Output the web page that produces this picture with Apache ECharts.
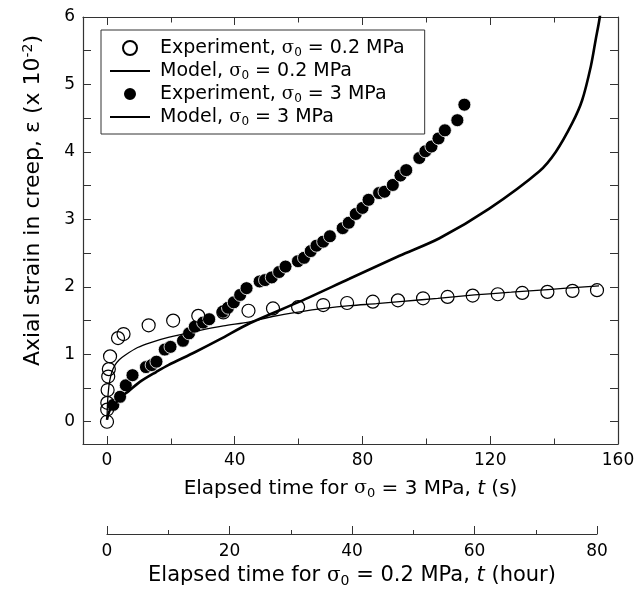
<!DOCTYPE html>
<html>
<head>
<meta charset="utf-8">
<script src="https://cdn.jsdelivr.net/npm/echarts@6/dist/echarts.min.js"></script>
<style>html,body{margin:0;padding:0;background:#fff}#c{width:634px;height:590px}</style>
</head>
<body>
<div id="c"></div>
<script>
// Experiment, sigma0 = 0.2 MPa (time in hours)
const expLowHours  = [0, 0.03, 0.05, 0.1, 0.2, 0.3, 0.5, 1.8, 2.7, 6.8, 10.8, 14.9, 19.0, 23.1, 27.1, 31.2, 35.3, 39.2, 43.4, 47.5, 51.6, 55.6, 59.7, 63.8, 67.8, 71.9, 76.0, 80.0];
const expLowStrain = [0.0, 0.18, 0.28, 0.47, 0.67, 0.78, 0.97, 1.24, 1.30, 1.43, 1.50, 1.57, 1.62, 1.645, 1.68, 1.70, 1.73, 1.76, 1.78, 1.80, 1.83, 1.85, 1.87, 1.89, 1.91, 1.925, 1.94, 1.95];
// Model, sigma0 = 0.2 MPa (hours)
const modelLowHours  = [0, 0.1, 0.3, 0.5, 0.8, 1.3, 2, 3, 5, 7, 10, 15, 19, 23.3, 27, 31.5, 35.5, 39.7, 44, 47.8, 54, 60, 66, 72, 78, 83.4];
const modelLowStrain = [0.03, 0.3, 0.52, 0.63, 0.74, 0.84, 0.92, 0.99, 1.10, 1.17, 1.25, 1.35, 1.42, 1.48, 1.56, 1.63, 1.68, 1.72, 1.75, 1.78, 1.83, 1.88, 1.92, 1.96, 2.0, 2.03];
// Experiment, sigma0 = 3 MPa (seconds)
const expHighTime   = [2.0, 4.1, 5.9, 8.0, 12.2, 14.0, 15.5, 18.1, 19.9, 23.8, 25.7, 27.5, 30.1, 32.0, 36.3, 37.9, 39.7, 41.7, 43.7, 47.8, 49.5, 51.6, 53.9, 55.9, 59.8, 61.7, 63.8, 65.6, 67.7, 69.8, 73.8, 75.7, 77.9, 80.0, 81.9, 85.2, 86.9, 89.5, 91.9, 93.7, 97.8, 99.7, 101.6, 103.8, 105.8, 109.7, 111.9];
const expHighStrain = [0.25, 0.37, 0.54, 0.69, 0.81, 0.84, 0.89, 1.07, 1.11, 1.20, 1.31, 1.41, 1.47, 1.52, 1.63, 1.69, 1.77, 1.88, 1.98, 2.08, 2.10, 2.14, 2.22, 2.30, 2.38, 2.43, 2.53, 2.61, 2.67, 2.75, 2.87, 2.95, 3.08, 3.17, 3.29, 3.39, 3.41, 3.51, 3.65, 3.73, 3.91, 4.01, 4.08, 4.20, 4.32, 4.47, 4.70];
// Model, sigma0 = 3 MPa (seconds)
const modelHighTime   = [0, 0.9, 2.5, 4.1, 6.7, 10.3, 15.5, 19.2, 27.5, 35.3, 44.7, 60.3, 75.9, 91.6, 104.1, 119.7, 135.3, 140.5, 145.7, 148.8, 151.5, 153.0, 154.3, 155.5];
const modelHighStrain = [0.03, 0.17, 0.26, 0.36, 0.45, 0.59, 0.74, 0.84, 1.03, 1.22, 1.46, 1.78, 2.12, 2.46, 2.72, 3.16, 3.71, 4.0, 4.43, 4.77, 5.27, 5.66, 6.0, 6.5];

// Tick values
const secMajorTicks  = [0, 40, 80, 120, 160];
const secMinorTicks  = [20, 60, 100, 140];
const hourMajorTicks = [0, 20, 40, 60, 80];
const hourMinorTicks = [10, 30, 50, 70];
const strainTicks    = [0, 0.5, 1, 1.5, 2, 2.5, 3, 3.5, 4, 4.5, 5, 5.5, 6];
const strainLabels   = [0, 1, 2, 3, 4, 5, 6];

const names = {
  eL: 'Experiment, σ0 = 0.2 MPa',
  mL: 'Model, σ0 = 0.2 MPa',
  eH: 'Experiment, σ0 = 3 MPa',
  mH: 'Model, σ0 = 3 MPa'
};
const legendRich = {};
legendRich[names.eL] = 'Experiment, {g|σ}{s|0} = 0.2 MPa';
legendRich[names.mL] = 'Model, {g|σ}{s|0} = 0.2 MPa';
legendRich[names.eH] = 'Experiment, {g|σ}{s|0} = 3 MPa';
legendRich[names.mH] = 'Model, {g|σ}{s|0} = 3 MPa';

const zip = (a, b) => a.map((v, i) => [v, b[i]]);
const FONT = 'DejaVu Sans';
const AX = '#333';
function richSet(size) {
  return {
    g: { fontFamily: 'DejaVu Serif', fontSize: size - 1, color: '#000' },
    s: { fontFamily: FONT, fontSize: Math.round(size * 0.65), color: '#000', padding: [Math.round(size / 2), 0, 0, 0] },
    i: { fontFamily: FONT, fontSize: size, fontStyle: 'italic', color: '#000' },
    sup: { fontFamily: FONT, fontSize: Math.round(size * 0.65), color: '#000', padding: [0, 0, Math.round(size / 2), 0] }
  };
}

function tickAxis(extra) {
  return Object.assign({
    type: 'value', axisLine: { show: false, onZero: false }, splitLine: { show: false },
    axisLabel: { show: false }
  }, extra);
}

const chart = echarts.init(document.getElementById('c'), null, { renderer: 'canvas' });
chart.setOption({
  animation: false,
  backgroundColor: '#fff',
  grid: [
    { left: 83, right: 16, top: 17, bottom: 146, show: false, containLabel: false, outerBoundsMode: 'none' },
    { left: 107, right: 37, top: 17, bottom: 146, show: false, containLabel: false, outerBoundsMode: 'none' }
  ],
  legend: {
    orient: 'vertical', left: 101, top: 30,
    data: [names.eL, names.mL, names.eH, names.mH],
    itemWidth: 40, itemHeight: 14, itemGap: 2,
    padding: [8, 20, 6, 8],
    borderColor: AX, borderWidth: 1, backgroundColor: '#fff',
    formatter: n => legendRich[n],
    textStyle: { fontFamily: FONT, fontSize: 19, color: '#000', lineHeight: 20, padding: [0, 0, 0, 5], rich: richSet(19) }
  },
  xAxis: [
    { type: 'value', gridIndex: 0, position: 'bottom', min: -7.5, max: 160,
      axisLine: { show: true, onZero: false, lineStyle: { color: AX, width: 1.2 } },
      axisTick: { show: true, inside: true, length: 8, customValues: secMajorTicks, lineStyle: { color: AX } },
      axisLabel: { show: true, customValues: secMajorTicks, margin: 8, fontFamily: FONT, fontSize: 17, color: '#000' },
      splitLine: { show: false },
      name: 'Elapsed time for {g|σ}{s|0} = 3 MPa, {i|t} (s)', nameLocation: 'middle', nameGap: 33,
      nameTextStyle: { fontFamily: FONT, fontSize: 20, color: '#000', rich: richSet(20) } },
    tickAxis({ gridIndex: 0, position: 'bottom', min: -7.5, max: 160,
      axisTick: { show: true, inside: true, length: 5.5, customValues: secMinorTicks, lineStyle: { color: AX } } }),
    { type: 'value', gridIndex: 0, position: 'top', min: -7.5, max: 160,
      axisLine: { show: true, onZero: false, lineStyle: { color: AX, width: 1.2 } },
      axisTick: { show: true, inside: true, length: 8, customValues: secMajorTicks, lineStyle: { color: AX } },
      axisLabel: { show: false }, splitLine: { show: false } },
    tickAxis({ gridIndex: 0, position: 'top', min: -7.5, max: 160,
      axisTick: { show: true, inside: true, length: 5.5, customValues: secMinorTicks, lineStyle: { color: AX } } }),
    { type: 'value', gridIndex: 1, position: 'bottom', offset: 90, min: 0, max: 80,
      axisLine: { show: true, onZero: false, lineStyle: { color: AX, width: 1.2 } },
      axisTick: { show: true, inside: true, length: 8, customValues: hourMajorTicks, lineStyle: { color: AX } },
      axisLabel: { show: true, customValues: hourMajorTicks, margin: 9, fontFamily: FONT, fontSize: 17, color: '#000' },
      splitLine: { show: false },
      name: 'Elapsed time for {g|σ}{s|0} = 0.2 MPa, {i|t} (hour)', nameLocation: 'middle', nameGap: 28,
      nameTextStyle: { fontFamily: FONT, fontSize: 21, color: '#000', rich: richSet(21) } },
    tickAxis({ gridIndex: 1, position: 'bottom', offset: 90, min: 0, max: 80,
      axisTick: { show: true, inside: true, length: 4, customValues: hourMinorTicks, lineStyle: { color: AX } } })
  ],
  yAxis: [
    { type: 'value', gridIndex: 0, position: 'left', min: -0.33, max: 6,
      axisLine: { show: true, onZero: false, lineStyle: { color: AX, width: 1.2 } },
      axisTick: { show: true, inside: true, length: 8, customValues: strainTicks, lineStyle: { color: AX } },
      axisLabel: { show: true, customValues: strainLabels, margin: 8, fontFamily: FONT, fontSize: 17, color: '#000' },
      splitLine: { show: false },
      name: 'Axial strain in creep, ε (x 10{sup|-2})', nameLocation: 'middle', nameGap: 37, nameRotate: 90,
      nameTextStyle: { fontFamily: FONT, fontSize: 22, color: '#000', rich: richSet(22), padding: [0, 0, 0, 60] } },
    { type: 'value', gridIndex: 0, position: 'right', min: -0.33, max: 6,
      axisLine: { show: true, onZero: false, lineStyle: { color: AX, width: 1.2 } },
      axisTick: { show: true, inside: true, length: 8, customValues: strainTicks, lineStyle: { color: AX } },
      axisLabel: { show: false }, splitLine: { show: false } },
    { type: 'value', gridIndex: 1, min: -0.33, max: 6, show: false }
  ],
  series: [
    { name: names.eH, type: 'scatter', xAxisIndex: 0, yAxisIndex: 0,
      data: zip(expHighTime, expHighStrain), symbol: 'circle', symbolSize: 13,
      itemStyle: { color: '#000', borderColor: '#fff', borderWidth: 0.8, opacity: 1 }, z: 3 },
    { name: names.eL, type: 'scatter', xAxisIndex: 4, yAxisIndex: 2,
      data: zip(expLowHours, expLowStrain), symbol: 'circle', symbolSize: 13,
      itemStyle: { color: 'rgba(255,255,255,0)', borderColor: '#000', borderWidth: 1.2, opacity: 1 }, z: 4 },
    { name: names.mL, type: 'line', xAxisIndex: 4, yAxisIndex: 2,
      data: zip(modelLowHours, modelLowStrain), symbol: 'none', smooth: 0.3,
      clip: false, lineStyle: { color: '#000', width: 1.3 }, itemStyle: { color: 'rgba(0,0,0,0)', opacity: 0 }, z: 5 },
    { name: names.mH, type: 'line', xAxisIndex: 0, yAxisIndex: 0,
      data: zip(modelHighTime, modelHighStrain), symbol: 'none', smooth: 0.3,
      clip: true, lineStyle: { color: '#000', width: 2.6 }, itemStyle: { color: 'rgba(0,0,0,0)', opacity: 0 }, z: 5 }
  ]
});
</script>
</body>
</html>
